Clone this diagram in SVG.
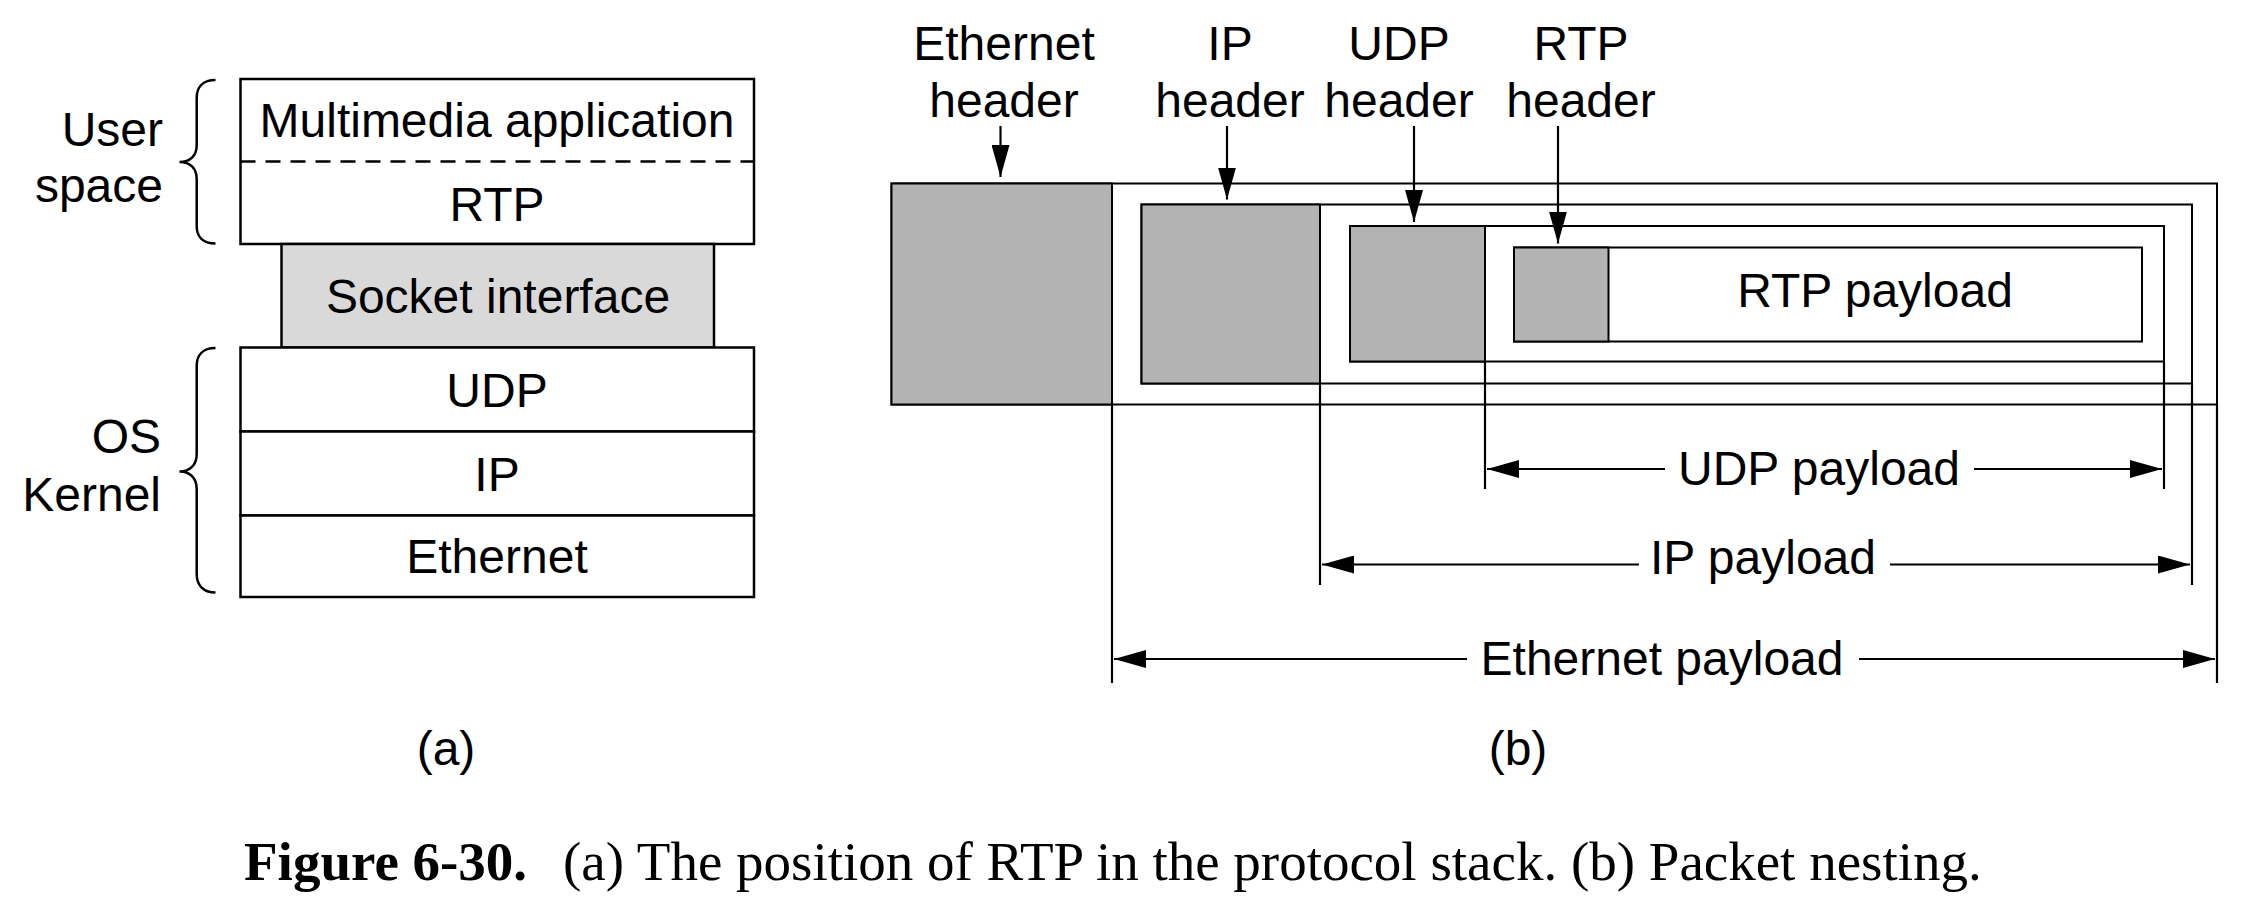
<svg xmlns="http://www.w3.org/2000/svg" width="2244" height="920" viewBox="0 0 2244 920">
<defs>
<style>
.t{font-family:"Liberation Sans",Arial,sans-serif;font-size:48px;fill:#000}
.c{text-anchor:middle}
.e{text-anchor:end}
.box{fill:#fff;stroke:#000;stroke-width:2.5}
.frame{fill:none;stroke:#000;stroke-width:2}
.gray{fill:#b3b3b3;stroke:#000;stroke-width:2}
.ln{fill:none;stroke:#000;stroke-width:2.2}
.brace{fill:none;stroke:#000;stroke-width:2.5}
.cap{font-family:"Liberation Serif","Times New Roman",serif;font-size:55px;fill:#000}
</style>
<marker id="ah" viewBox="0 0 32 18" refX="32" refY="9" markerWidth="32" markerHeight="18" markerUnits="userSpaceOnUse" orient="auto">
<path d="M0,0 L32,9 L0,18 Z" fill="#000"/>
</marker>
</defs>
<rect width="2244" height="920" fill="#fff"/>

<!-- (a) protocol stack -->
<g id="userspace">
<rect class="box" x="240.5" y="79" width="513.5" height="165"/>
<line x1="240.5" y1="161.5" x2="754" y2="161.5" stroke="#000" stroke-width="2.5" stroke-dasharray="15 10"/>
<text class="t c" x="497" y="137">Multimedia application</text>
<text class="t c" x="497" y="221">RTP</text>
</g>
<g id="socket">
<rect x="281.5" y="244" width="432.5" height="103.5" fill="#d9d9d9" stroke="#000" stroke-width="2.5"/>
<text class="t c" x="498" y="313">Socket interface</text>
</g>
<g id="udp">
<rect class="box" x="240.5" y="347.5" width="513.5" height="84"/>
<text class="t c" x="497" y="407">UDP</text>
</g>
<g id="ip">
<rect class="box" x="240.5" y="431.5" width="513.5" height="84"/>
<text class="t c" x="497" y="491">IP</text>
</g>
<g id="ethernet">
<rect class="box" x="240.5" y="515.5" width="513.5" height="81.5"/>
<text class="t c" x="497" y="573">Ethernet</text>
</g>
<g id="userspace-label">
<path class="brace" d="M215.5,80 C203,80 196.7,87 196.7,98 L196.7,145 C196.7,156 190,162 179.5,162 C190,162 196.7,168 196.7,179 L196.7,226 C196.7,237 203,243.5 215.5,243.5"/>
<text class="t e" x="163" y="146">User</text>
<text class="t e" x="163" y="202">space</text>
</g>
<g id="kernel-label">
<path class="brace" d="M215.5,348 C203,348 196.7,355 196.7,366 L196.7,454 C196.7,465 190,471.5 179.5,471.5 C190,471.5 196.7,478 196.7,489 L196.7,574 C196.7,585 203,592.5 215.5,592.5"/>
<text class="t e" x="161" y="453">OS</text>
<text class="t e" x="161" y="511">Kernel</text>
</g>
<text id="label-a" class="t c" x="446" y="765">(a)</text>

<!-- (b) packet nesting -->
<g id="eth-frame">
<rect class="frame" x="891.5" y="183.5" width="1325.5" height="221"/>
<rect class="gray" x="891.5" y="183.5" width="220.5" height="221"/>
</g>
<g id="ip-frame">
<rect class="frame" x="1141.5" y="204.5" width="1050.5" height="179"/>
<rect class="gray" x="1141.5" y="204.5" width="178.5" height="179"/>
</g>
<g id="udp-frame">
<rect class="frame" x="1350" y="226" width="814" height="135.5"/>
<rect class="gray" x="1350" y="226" width="135" height="135.5"/>
</g>
<g id="rtp-frame">
<rect class="frame" x="1514" y="247.5" width="628" height="94"/>
<rect class="gray" x="1514" y="247.5" width="94.5" height="94"/>
<text class="t c" x="1875" y="307">RTP payload</text>
</g>
<g id="eth-header-label">
<text class="t c" x="1004" y="60">Ethernet</text>
<text class="t c" x="1004" y="117">header</text>
</g>
<g id="ip-header-label">
<text class="t c" x="1230" y="60">IP</text>
<text class="t c" x="1230" y="117">header</text>
</g>
<g id="udp-header-label">
<text class="t c" x="1399" y="60">UDP</text>
<text class="t c" x="1399" y="117">header</text>
</g>
<g id="rtp-header-label">
<text class="t c" x="1581" y="60">RTP</text>
<text class="t c" x="1581" y="117">header</text>
</g>
<g id="udp-payload-label"><text class="t c" x="1819" y="485">UDP payload</text></g>
<g id="ip-payload-label"><text class="t c" x="1763" y="574">IP payload</text></g>
<g id="eth-payload-label"><text class="t c" x="1662" y="675">Ethernet payload</text></g>
<text id="label-b" class="t c" x="1518" y="765">(b)</text>

<g id="connectors">
<line class="ln" x1="1000.5" y1="126" x2="1000.5" y2="177" marker-end="url(#ah)"/>
<line class="ln" x1="1227" y1="126" x2="1227" y2="199.5" marker-end="url(#ah)"/>
<line class="ln" x1="1414" y1="126" x2="1414" y2="222" marker-end="url(#ah)"/>
<line class="ln" x1="1558" y1="126" x2="1558" y2="243.5" marker-end="url(#ah)"/>
<!-- extension ticks -->
<line class="ln" x1="1112" y1="404.5" x2="1112" y2="683"/>
<line class="ln" x1="2217" y1="404.5" x2="2217" y2="683"/>
<line class="ln" x1="1320" y1="383.5" x2="1320" y2="585"/>
<line class="ln" x1="2192" y1="383.5" x2="2192" y2="585"/>
<line class="ln" x1="1485" y1="361.5" x2="1485" y2="489"/>
<line class="ln" x1="2164" y1="361.5" x2="2164" y2="489"/>
<!-- dimension arrows -->
<line class="ln" x1="1665" y1="469" x2="1487" y2="469" marker-end="url(#ah)"/>
<line class="ln" x1="1974" y1="469" x2="2162" y2="469" marker-end="url(#ah)"/>
<line class="ln" x1="1639" y1="564.5" x2="1322" y2="564.5" marker-end="url(#ah)"/>
<line class="ln" x1="1890" y1="564.5" x2="2190" y2="564.5" marker-end="url(#ah)"/>
<line class="ln" x1="1467" y1="659" x2="1114" y2="659" marker-end="url(#ah)"/>
<line class="ln" x1="1859" y1="659" x2="2215" y2="659" marker-end="url(#ah)"/>
</g>

<text id="caption" class="cap" x="244" y="880"><tspan font-weight="bold">Figure 6-30.</tspan><tspan x="563">(a) The position of RTP in the protocol stack. (b) Packet nesting.</tspan></text>
</svg>
